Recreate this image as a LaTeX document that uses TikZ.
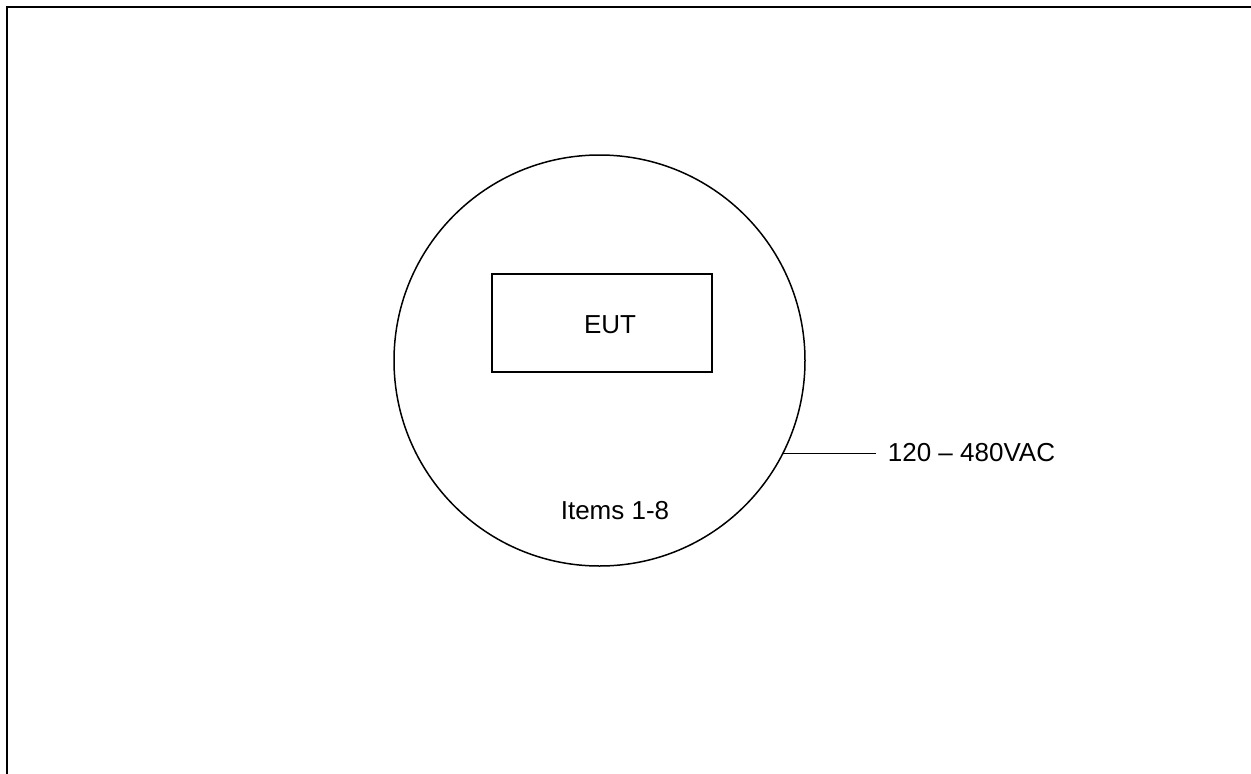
\documentclass[tikz,border=0pt]{standalone}
\usepackage{fontspec}
\setmainfont{Liberation Sans}
\begin{document}
\begin{tikzpicture}[x=1pt,y=-1pt,
  lbl/.style={font=\fontsize{26}{30}\selectfont, inner sep=0pt},
  thin line/.style={line width=1.5pt}]
\useasboundingbox (0,0) rectangle (1251,774);
\draw[line width=2.2pt] (7,774) -- (7,7) -- (1251,7);
\node[draw, thin line, circle, minimum size=411pt, inner sep=0pt] (c) at (599.5,360.5) {};
\node[draw, thin line, rectangle, minimum width=220pt, minimum height=98pt, inner sep=0pt] (eut) at (602,323) {};
\node[lbl, anchor=base] (euttext) at (610,333.3) {EUT};
\node[lbl, anchor=base] (items) at (615,519) {Items 1-8};
\coordinate (p) at (782.8,453.5);
\node[lbl, anchor=base west] (volt) at (887.7,461.7) {120 – 480VAC};
\coordinate (q) at (876,453.5);
\draw[thin line] (p) -- (q);
\end{tikzpicture}
\end{document}
